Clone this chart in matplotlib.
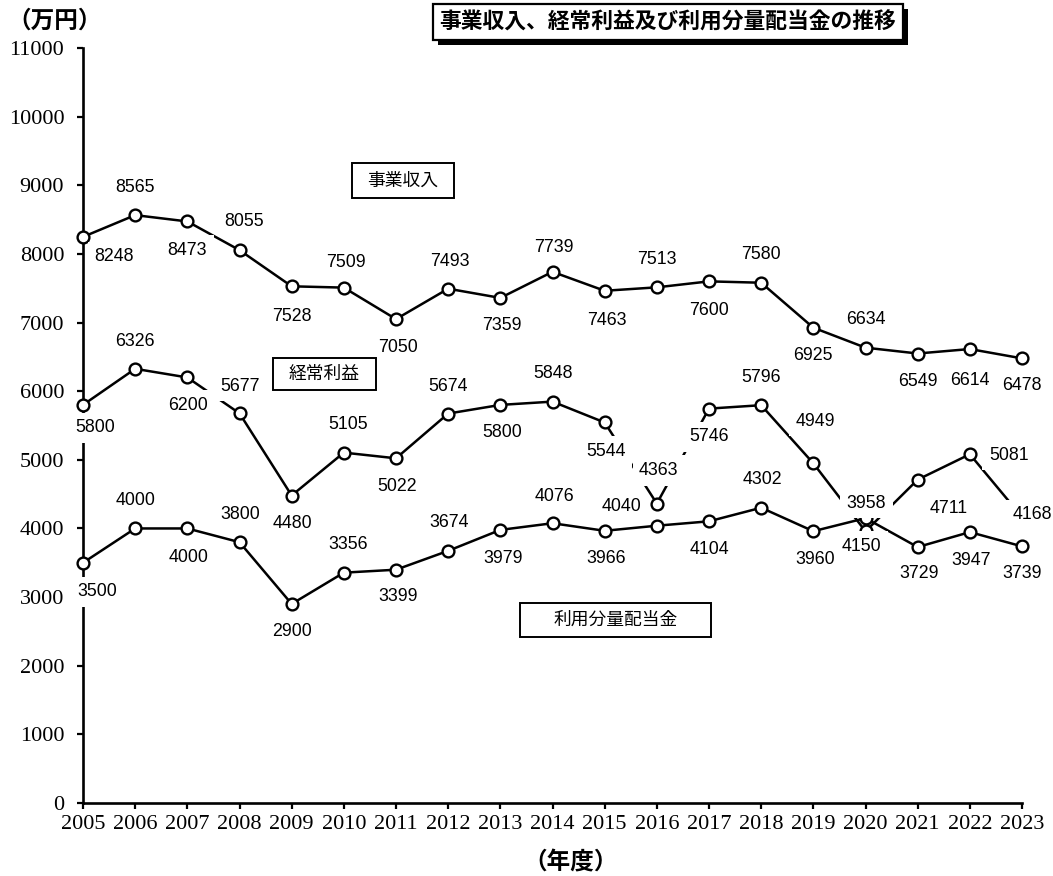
import matplotlib
matplotlib.use('Agg')
import matplotlib.pyplot as plt
import matplotlib.patches as patches
import matplotlib.patheffects as pe

years = list(range(2005, 2024))
revenue = [8248, 8565, 8473, 8055, 7528, 7509, 7050, 7493, 7359, 7739,
           7463, 7513, 7600, 7580, 6925, 6634, 6549, 6614, 6478]
profit = [5800, 6326, 6200, 5677, 4480, 5105, 5022, 5674, 5800, 5848,
          5544, 4363, 5746, 5796, 4949, 3958, 4711, 5081, 4168]
dividend = [3500, 4000, 4000, 3800, 2900, 3356, 3399, 3674, 3979, 4076,
            3966, 4040, 4104, 4302, 3960, 4150, 3729, 3947, 3739]
series_names = ['事業収入', '経常利益', '利用分量配当金']
title = '事業収入、経常利益及び利用分量配当金の推移'
y_unit = '（万円）'
x_unit = '（年度）'

# label offsets in pixels (dx right, dy down)
rev_off = [(31, 20), (0, -28), (0, 29), (5, -29), (0, 30), (2, -25), (2, 28),
           (2, -27), (2, 28), (1, -24), (2, 30), (0, -28), (0, 29), (0, -28),
           (0, 28), (0, -28), (0, 28), (0, 31), (0, 27)]
pro_off = [(12, 23), (0, -27), (1, 28), (1, -27), (1, 28), (4, -28), (1, 28),
           (0, -27), (2, 28), (1, -28), (1, 29), (2, -33), (0, 28), (0, -28),
           (2, -42), (1, -28), (31, 29), (39, 1), (10, -2)]
div_off = [(14, 29), (0, -28), (1, 29), (1, -28), (0, 28), (4, -28), (2, 27),
           (1, -28), (3, 29), (2, -27), (1, 28), (-35, -19), (0, 28), (1, -28),
           (2, 28), (-4, 28), (1, 26), (1, 28), (0, 27)]

# series name boxes: (x0, x1, y0, y1) in data units
name_boxes = [(2010.16, 2012.11, 8814, 9324),
              (2008.64, 2010.62, 6017, 6483),
              (2013.38, 2017.04, 2418, 2914)]

cjk = ['Noto Sans CJK JP', 'DejaVu Sans']
serif = 'Liberation Serif'
sans = 'Liberation Sans'

fig = plt.figure(figsize=(10.53, 8.76), dpi=100)
ax = fig.add_axes([83 / 1053, 73 / 876, (1022 - 83) / 1053, (803 - 48) / 876])

for vals, offs in [(revenue, rev_off), (profit, pro_off), (dividend, div_off)]:
    ax.plot(years, vals, color='black', lw=1.8, marker='o', ms=8.5,
            mfc='white', mec='black', mew=1.7, zorder=3, clip_on=False)
    for x, v, (dx, dy) in zip(years, vals, offs):
        ax.annotate(str(v), (x, v), xytext=(dx, -dy), textcoords='offset pixels',
                    ha='center', va='center', fontsize=12.8, family=sans,
                    zorder=6,
                    bbox=dict(boxstyle='square,pad=0.37', fc='white', ec='none'))

for name, (x0, x1, y0, y1) in zip(series_names, name_boxes):
    ax.add_patch(patches.Rectangle((x0, y0), x1 - x0, y1 - y0, fc='white',
                                   ec='black', lw=1.4, zorder=7, clip_on=False))
    ax.text((x0 + x1) / 2, (y0 + y1) / 2, name, ha='center', va='center',
            fontsize=12.8, family=cjk, zorder=8)

ax.set_xlim(2005, 2023)
ax.set_ylim(0, 11000)
ax.set_xticks(years)
ax.set_yticks(range(0, 11001, 1000))
ax.spines['top'].set_visible(False)
ax.spines['right'].set_visible(False)
ax.spines['left'].set_linewidth(1.9)
ax.spines['bottom'].set_linewidth(1.9)
ax.tick_params(direction='out', length=4.5, width=1.6, labelsize=16)
ax.tick_params(axis='y', pad=9)
ax.tick_params(axis='x', pad=4)
for lab in ax.get_xticklabels() + ax.get_yticklabels():
    lab.set_family(serif)

fig.text(55 / 1053, 1 - 21 / 876, y_unit, ha='center', va='center',
         fontsize=17, fontweight='bold', family=cjk)
fig.text(571 / 1053, 1 - 862 / 876, x_unit, ha='center', va='center',
         fontsize=17, fontweight='bold', family=cjk)

t = fig.text(668 / 1053, 1 - 22 / 876, title, ha='center', va='center',
             fontsize=15.7, fontweight='bold', family=cjk,
             bbox=dict(boxstyle='square,pad=0.3', fc='white', ec='black', lw=1.6))
t.get_bbox_patch().set_path_effects([
    pe.SimplePatchShadow(offset=(3.6, -3.6), shadow_rgbFace='black', alpha=1),
    pe.Normal()])

fig.savefig('out.png', dpi=100)
